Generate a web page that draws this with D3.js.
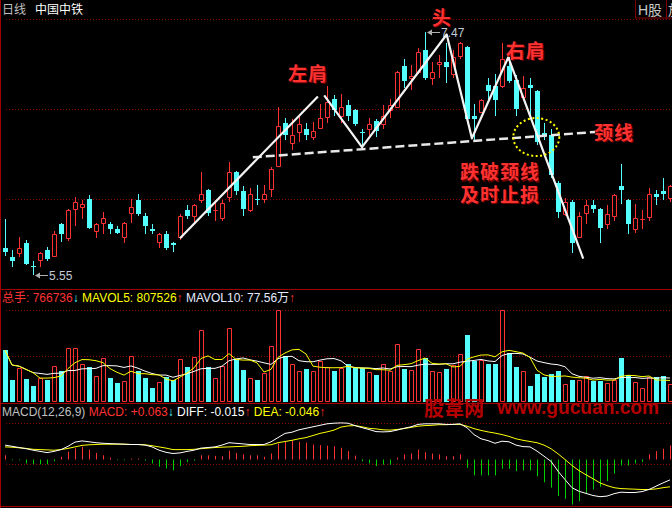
<!DOCTYPE html>
<html>
<head>
<meta charset="utf-8">
<script src="https://cdn.jsdelivr.net/npm/d3@7"></script>
<style>
    html, body { margin: 0; padding: 0; background: #000; }
    svg { display: block; }
    text { font-family: "Liberation Sans", Arial, "Noto Sans CJK SC", sans-serif; }
</style>
</head>
<body>
<div id="chart"></div>
<script>
// daily bars, prices in yuan
const open = [5.76, 5.69, 5.72, 5.80, 5.62, 5.67, 5.75, 5.70, 5.95, 5.84,
    6.07, 6.09, 6.15, 5.90, 5.96, 5.95, 5.91, 5.85, 6.04, 6.14,
    6.02, 5.91, 5.81, 5.87, 5.80, 5.85, 6.06, 6.02, 6.14, 6.22,
    6.06, 6.00, 6.17, 6.36, 6.21, 6.06, 6.15, 6.15, 6.23, 6.41,
    6.75, 6.59, 6.68, 6.70, 6.64, 6.71, 6.80, 6.94, 6.81, 6.89,
    6.85, 6.68, 6.70, 6.77, 6.74, 6.85, 6.88, 7.20, 7.11, 7.15,
    7.33, 7.11, 7.22, 7.23, 7.14, 7.28, 7.35, 6.81, 6.84, 7.05,
    7.04, 7.04, 7.20, 7.09, 6.96, 7.05, 7.00, 6.67, 6.66, 6.28,
    6.03, 6.13, 5.85, 6.04, 6.10, 6.07, 5.95, 6.02, 6.25, 6.14,
    5.91, 5.99, 6.01, 6.19, 6.21, 6.16];
const high = [5.99, 5.75, 5.85, 5.83, 5.66, 5.73, 5.77, 5.90, 5.96, 6.07,
    6.17, 6.14, 6.18, 5.96, 6.05, 5.97, 5.94, 5.97, 6.15, 6.19,
    6.04, 5.95, 5.88, 5.90, 5.81, 6.03, 6.10, 6.11, 6.36, 6.23,
    6.14, 6.14, 6.44, 6.37, 6.25, 6.24, 6.26, 6.26, 6.40, 6.88,
    6.79, 6.78, 6.80, 6.75, 6.76, 6.90, 7.04, 6.97, 6.98, 6.93,
    6.86, 6.70, 6.79, 6.78, 6.89, 6.94, 7.16, 7.26, 7.21, 7.34,
    7.47, 7.23, 7.29, 7.38, 7.33, 7.39, 7.36, 6.90, 6.94, 7.11,
    7.14, 7.38, 7.27, 7.13, 7.12, 7.11, 7.01, 6.75, 6.70, 6.29,
    6.16, 6.14, 6.05, 6.14, 6.14, 6.08, 6.10, 6.19, 6.43, 6.15,
    6.11, 6.06, 6.24, 6.22, 6.32, 6.26];
const low = [5.70, 5.61, 5.69, 5.63, 5.55, 5.61, 5.66, 5.69, 5.81, 5.82,
    5.94, 5.99, 5.91, 5.84, 5.87, 5.87, 5.87, 5.80, 5.96, 6.02,
    5.87, 5.87, 5.76, 5.75, 5.73, 5.83, 5.99, 5.95, 6.12, 6.02,
    5.98, 5.98, 6.13, 6.18, 6.02, 6.05, 6.10, 6.12, 6.17, 6.40,
    6.62, 6.54, 6.60, 6.62, 6.62, 6.70, 6.75, 6.81, 6.75, 6.77,
    6.73, 6.56, 6.64, 6.64, 6.70, 6.79, 6.87, 7.03, 7.01, 7.14,
    7.09, 7.05, 7.11, 7.07, 7.11, 7.26, 6.77, 6.62, 6.83, 6.93,
    6.81, 7.03, 7.07, 6.81, 6.93, 6.81, 6.58, 6.62, 6.32, 6.00,
    6.02, 5.72, 5.84, 5.95, 6.04, 5.80, 5.91, 5.98, 6.11, 5.87,
    5.88, 5.91, 5.98, 6.10, 6.14, 6.13];
const close = [5.73, 5.66, 5.76, 5.64, 5.61, 5.72, 5.68, 5.87, 5.87, 6.06,
    6.13, 6.11, 5.92, 5.95, 6.00, 5.91, 5.88, 5.96, 6.09, 6.03,
    5.94, 5.90, 5.87, 5.76, 5.79, 6.02, 6.02, 6.10, 6.19, 6.04,
    6.06, 6.12, 6.36, 6.21, 6.07, 6.19, 6.14, 6.19, 6.39, 6.73,
    6.66, 6.66, 6.74, 6.66, 6.69, 6.79, 6.92, 6.85, 6.88, 6.81,
    6.74, 6.67, 6.74, 6.69, 6.81, 6.89, 7.15, 7.08, 7.12, 7.31,
    7.11, 7.15, 7.23, 7.19, 7.27, 7.38, 6.78, 6.78, 6.93, 7.00,
    6.93, 7.26, 7.08, 6.86, 7.03, 7.03, 6.60, 6.66, 6.34, 6.05,
    6.13, 5.80, 6.02, 6.10, 6.07, 5.92, 6.03, 6.18, 6.22, 5.95,
    6.00, 5.99, 6.19, 6.17, 6.19, 6.25];

// volume in 万手
const volume = [221, 94, 143, 98, 70, 104, 94, 153, 132, 229,
    229, 161, 150, 111, 186, 104, 82, 89, 196, 132,
    104, 61, 84, 108, 94, 183, 150, 193, 307, 150,
    104, 153, 317, 183, 136, 104, 94, 122, 239, 392,
    197, 161, 132, 141, 132, 175, 150, 132, 143, 162,
    143, 143, 126, 115, 161, 132, 246, 141, 136, 226,
    189, 132, 126, 141, 158, 203, 285, 175, 179, 162,
    162, 391, 207, 150, 132, 68, 119, 108, 119, 132,
    77, 94, 94, 111, 91, 91, 80, 94, 189, 115,
    84, 58, 108, 105, 111, 77];

// MACD(12,26,9)
const diff = [0.048, 0.044, 0.040, 0.036, 0.031, 0.027, 0.023, 0.027, 0.033, 0.044,
    0.058, 0.062, 0.059, 0.056, 0.054, 0.053, 0.052, 0.051, 0.050, 0.050,
    0.048, 0.042, 0.031, 0.024, 0.020, 0.022, 0.027, 0.031, 0.038, 0.040,
    0.042, 0.048, 0.056, 0.054, 0.052, 0.050, 0.050, 0.050, 0.059, 0.073,
    0.087, 0.091, 0.099, 0.104, 0.109, 0.114, 0.119, 0.121, 0.122, 0.121,
    0.113, 0.106, 0.100, 0.093, 0.092, 0.093, 0.098, 0.104, 0.109, 0.117,
    0.119, 0.119, 0.119, 0.117, 0.117, 0.119, 0.106, 0.083, 0.069, 0.063,
    0.054, 0.061, 0.059, 0.048, 0.043, 0.042, 0.028, 0.011, -0.006, -0.039,
    -0.067, -0.094, -0.106, -0.113, -0.120, -0.124, -0.122, -0.114, -0.109, -0.110,
    -0.110, -0.107, -0.100, -0.089, -0.078, -0.068];
const dea = [0.042, 0.041, 0.039, 0.037, 0.034, 0.033, 0.032, 0.031, 0.033, 0.037,
    0.042, 0.047, 0.049, 0.050, 0.051, 0.051, 0.051, 0.051, 0.050, 0.050,
    0.049, 0.046, 0.042, 0.038, 0.033, 0.033, 0.033, 0.034, 0.036, 0.038,
    0.040, 0.041, 0.042, 0.043, 0.044, 0.046, 0.047, 0.048, 0.049, 0.056,
    0.060, 0.064, 0.069, 0.073, 0.080, 0.087, 0.092, 0.098, 0.108, 0.112,
    0.113, 0.109, 0.104, 0.102, 0.099, 0.098, 0.100, 0.103, 0.107, 0.111,
    0.113, 0.114, 0.116, 0.116, 0.117, 0.117, 0.111, 0.103, 0.097, 0.092,
    0.088, 0.083, 0.077, 0.069, 0.064, 0.060, 0.056, 0.048, 0.036, 0.019,
    0.000, -0.020, -0.037, -0.051, -0.064, -0.078, -0.087, -0.094, -0.097, -0.098,
    -0.099, -0.100, -0.100, -0.098, -0.094, -0.091];
const macdBar = [0.014, -0.002, -0.002, -0.013, -0.016, -0.016, -0.016, -0.006, 0.009, 0.026,
    0.037, 0.042, 0.033, 0.022, 0.014, 0.006, -0.002, -0.002, 0.003, 0.003,
    -0.004, -0.013, -0.024, -0.030, -0.036, -0.022, -0.008, -0.004, 0.014, 0.014,
    0.012, 0.011, 0.029, 0.022, 0.017, 0.014, 0.014, 0.009, 0.020, 0.053,
    0.059, 0.064, 0.059, 0.056, 0.050, 0.048, 0.046, 0.044, 0.039, 0.028,
    0.013, -0.006, -0.013, -0.022, -0.017, -0.017, 0.006, 0.017, 0.020, 0.033,
    0.024, 0.020, 0.017, 0.011, 0.011, 0.017, -0.028, -0.053, -0.053, -0.053,
    -0.053, -0.031, -0.031, -0.039, -0.036, -0.036, -0.056, -0.076, -0.094, -0.122,
    -0.131, -0.150, -0.139, -0.113, -0.100, -0.091, -0.072, -0.047, -0.020, -0.020,
    -0.013, -0.008, 0.017, 0.028, 0.036, 0.047];

// grid levels of each pane
const priceGrid = [7.57, 6.86, 6.15];
const volumeGrid = [392, 196];
const macdGrid = [0.122, -0.015];

// head and shoulders drawing, [bar index, price]
const leftShoulderLeg = [[25, 5.84], [44.7, 6.96]];
const patternLegs = [[45.6, 6.97], [51, 6.56], [63.1, 7.45], [66.7, 6.63], [71.9, 7.27], [82.6, 5.68]];
const neckline = [[35.4, 6.48], [84.3, 6.68]];
const breakPoint = [75.9, 6.64];
const patternNotes = [
    { text: '左肩', at: [43.3, 7.14] },
    { text: '头', at: [62.4, 7.58] },
    { text: '右肩', at: [74.4, 7.32] },
    { text: '颈线', at: [87.0, 6.67] },
    { text: '跌破颈线', at: [70.7, 6.36] },
    { text: '及时止损', at: [70.7, 6.18] },
];

// text
const titleTexts = ['日线', '中国中铁'];
const tabTexts = ['H股', '放大'];
const volumeLegend = ['总手: 766736', '↓', ' MAVOL5: 807526', '↑', ' MAVOL10: 77.56万', '↑'];
const macdLegend = ['MACD(12,26,9) ', 'MACD: +0.063', '↓', ' DIFF: -0.015', '↑', ' DEA: -0.046', '↑'];
const watermark = ['股韋网', 'www.gucuan.com'];

const RED = '#ff3232';
const CYAN = '#54ffff';
const GREEN = '#00d000';
const YELLOW = '#ffff00';
const FRAME = '#a00000';

const crisp = v => Math.round(v) + .5;

class KLineChart
{
    constructor(selector)
    {
        this.width = 672;
        this.height = 508;
        this.svg = d3.select(selector).append('svg')
            .attr('width', this.width)
            .attr('height', this.height);

        const last = open.length - 1;
        this.x = d3.scaleLinear().domain([0, last]).range([5, 5 + 7 * last]);
        this.yPrice = d3.scaleLinear().domain([d3.min(low), d3.max(high)]).range([275, 32]);
        this.yVol = d3.scaleLinear().domain([0, d3.max(volume)]).range([402, 310]);
        this.yMacd = d3.scaleLinear().domain([0, .1]).range([459.5, 429.5]);

        this.bars = open.map((o, i) => ({ i, o, h: high[i], l: low[i], c: close[i], v: volume[i], up: close[i] >= o }));
    }

    render()
    {
        this.svg.append('rect').attr('width', this.width).attr('height', this.height).attr('fill', '#000');
        this._renderFrame();
        this._renderCandles();
        this._renderExtremes();
        this._renderVolume();
        this._renderMacd();
        this._renderPattern();
        this._renderTexts();
    }

    _renderFrame()
    {
        const g = this.svg.append('g').classed('frame', true);
        const grid = [
            ...priceGrid.map(p => this.yPrice(p)),
            ...volumeGrid.map(v => this.yVol(v)),
            ...macdGrid.map(v => this.yMacd(v)),
        ];
        g.selectAll('line.grid').data(grid).enter().append('line')
            .attr('x1', 6).attr('x2', this.width)
            .attr('y1', d => crisp(d)).attr('y2', d => crisp(d))
            .attr('stroke', '#8a0000').attr('stroke-dasharray', '1,2');

        g.selectAll('line.pane').data([289, 403, 506]).enter().append('line')
            .attr('x1', 0).attr('x2', this.width)
            .attr('y1', d => d + .5).attr('y2', d => d + .5)
            .attr('stroke', FRAME);
        g.append('line').attr('x1', .5).attr('x2', .5).attr('y1', 0).attr('y2', this.height)
            .attr('stroke', FRAME);

        // top right tabs, the second one runs off the edge
        tabTexts.forEach((t, i) => {
            g.append('rect').attr('x', 635.5 + 31 * i).attr('y', -1).attr('width', 31).attr('height', 19)
                .attr('fill', 'none').attr('stroke', '#800000');
            g.append('text').attr('x', 638 + 30 * i).attr('y', 15).attr('font-size', 14)
                .attr('fill', '#c8c8c8').text(t);
        });
    }

    _renderCandles()
    {
        const y = v => Math.round(this.yPrice(v));
        const g = this.svg.append('g').classed('candles', true);

        g.selectAll('path.wick').data(this.bars).enter().append('path')
            .attr('d', d => {
                const cx = crisp(this.x(d.i));
                return d.up
                    ? `M${cx},${y(d.h)}V${y(d.c)}M${cx},${y(d.o)}V${y(d.l)}`
                    : `M${cx},${y(d.h)}V${y(d.l)}`;
            })
            .attr('stroke', d => d.up ? RED : CYAN);

        g.selectAll('path.up').data(this.bars.filter(d => d.up)).enter().append('path')
            .attr('d', d => {
                const cx = Math.round(this.x(d.i));
                const t = y(d.c) + .5, b = y(d.o) + .5;
                return `M${cx - 1.5},${t}H${cx + 2.5}V${b}H${cx - 1.5}Z`;
            })
            .attr('fill', '#000').attr('stroke', RED);

        g.selectAll('rect.down').data(this.bars.filter(d => !d.up)).enter().append('rect')
            .attr('x', d => Math.round(this.x(d.i)) - 2)
            .attr('y', d => y(d.o))
            .attr('width', 5)
            .attr('height', d => Math.max(1, y(d.c) - y(d.o)))
            .attr('fill', CYAN);
    }

    _renderExtremes()
    {
        const g = this.svg.append('g').classed('extremes', true);
        const hi = d3.maxIndex(high), lo = d3.minIndex(low);
        const marks = [
            { i: hi, y: this.yPrice(high[hi]), label: d3.format('.2f')(high[hi]) },
            { i: lo, y: this.yPrice(low[lo]), label: d3.format('.2f')(low[lo]) },
        ];
        marks.forEach(m => {
            const x0 = Math.round(this.x(m.i)) + 2;
            const yy = crisp(m.y);
            g.append('line').attr('x1', x0 + 3).attr('x2', x0 + 13).attr('y1', yy).attr('y2', yy)
                .attr('stroke', '#b0b0b0');
            g.append('path').attr('d', `M${x0},${yy}L${x0 + 5},${yy - 3}L${x0 + 5},${yy + 3}Z`).attr('fill', '#b0b0b0');
            g.append('text').attr('x', x0 + 14).attr('y', yy + 4.5)
                .attr('font-size', 12).attr('fill', '#c0cad6').text(m.label);
        });
    }

    _renderVolume()
    {
        const g = this.svg.append('g').classed('volume', true);
        const base = this.yVol(0);
        const y = v => Math.round(this.yVol(v));

        g.selectAll('path.up').data(this.bars.filter(d => d.up)).enter().append('path')
            .attr('d', d => {
                const cx = Math.round(this.x(d.i));
                return `M${cx - 1.5},${y(d.v) + .5}H${cx + 2.5}V${base - .5}H${cx - 1.5}Z`;
            })
            .attr('fill', 'none').attr('stroke', RED);

        g.selectAll('rect.down').data(this.bars.filter(d => !d.up)).enter().append('rect')
            .attr('x', d => Math.round(this.x(d.i)) - 2)
            .attr('y', d => y(d.v))
            .attr('width', 5)
            .attr('height', d => base - y(d.v))
            .attr('fill', CYAN);

        const movingAverage = n => volume.map((v, i) => d3.mean(volume.slice(Math.max(0, i - n + 1), i + 1)));
        const line = d3.line().x((d, i) => this.x(i)).y(d => this.yVol(d));
        g.append('path').attr('d', line(movingAverage(10))).attr('fill', 'none').attr('stroke', '#ffffff');
        g.append('path').attr('d', line(movingAverage(5))).attr('fill', 'none').attr('stroke', YELLOW);
    }

    _renderMacd()
    {
        const g = this.svg.append('g').classed('macd', true);
        const zero = this.yMacd(0);

        g.selectAll('line.bar').data(macdBar).enter().append('line')
            .attr('x1', (d, i) => crisp(this.x(i)))
            .attr('x2', (d, i) => crisp(this.x(i)))
            .attr('y1', zero)
            .attr('y2', d => this.yMacd(d))
            .attr('stroke', d => d >= 0 ? RED : GREEN);

        const line = d3.line().x((d, i) => this.x(i)).y(d => this.yMacd(d));
        g.append('path').attr('d', line(dea)).attr('fill', 'none').attr('stroke', YELLOW);
        g.append('path').attr('d', line(diff)).attr('fill', 'none').attr('stroke', '#ffffff');
    }

    _renderPattern()
    {
        const g = this.svg.append('g').classed('pattern', true);
        const line = d3.line().x(d => this.x(d[0])).y(d => this.yPrice(d[1]));

        g.append('path').attr('d', line(neckline))
            .attr('fill', 'none').attr('stroke', '#e8e8e8').attr('stroke-width', 2.5)
            .attr('stroke-dasharray', '9,4');

        [leftShoulderLeg, patternLegs].forEach(points => {
            g.append('path').attr('d', line(points))
                .attr('fill', 'none').attr('stroke', '#f4f4f4').attr('stroke-width', 2.2)
                .attr('stroke-linejoin', 'round');
        });

        g.append('ellipse')
            .attr('cx', this.x(breakPoint[0])).attr('cy', this.yPrice(breakPoint[1]))
            .attr('rx', 23).attr('ry', 19)
            .attr('fill', 'none').attr('stroke', YELLOW).attr('stroke-width', 2)
            .attr('stroke-dasharray', '2,2.5');

        const notes = g.selectAll('g.note').data(patternNotes).enter().append('g')
            .attr('transform', d => `translate(${this.x(d.at[0])}, ${this.yPrice(d.at[1])})`);
        [['#6a0000', 1.2], [RED, 0]].forEach(([color, off]) => {
            notes.append('text')
                .attr('x', off).attr('y', 7 + off)
                .attr('text-anchor', 'middle')
                .attr('font-family', '"Noto Sans CJK SC"')
                .attr('font-weight', 'bold')
                .attr('font-size', 19)
                .attr('letter-spacing', 1)
                .attr('fill', color)
                .text(d => d.text);
        });
    }

    _renderTexts()
    {
        const g = this.svg.append('g').classed('texts', true);

        const title = g.append('text').attr('x', 2).attr('y', 14).attr('font-size', 12)
            .attr('font-family', '"Noto Sans CJK SC"');
        title.append('tspan').attr('fill', '#c0c0c0').text(titleTexts[0]);
        title.append('tspan').attr('dx', 9).attr('fill', '#ffffff').text(titleTexts[1]);

        const volColors = [RED, CYAN, YELLOW, RED, '#e6ecff', RED];
        const vol = g.append('text').attr('x', 2).attr('y', 302).attr('font-size', 12);
        volumeLegend.forEach((t, i) => vol.append('tspan').attr('fill', volColors[i]).text(t));

        const macdColors = ['#c0c0c0', RED, CYAN, '#ffffff', RED, YELLOW, RED];
        const macd = g.append('text').attr('x', 2).attr('y', 416).attr('font-size', 12);
        macdLegend.forEach((t, i) => macd.append('tspan').attr('fill', macdColors[i]).text(t));

        g.append('text').attr('x', 424).attr('y', 416)
            .attr('font-family', '"Noto Sans CJK SC"').attr('font-weight', 'bold')
            .attr('font-size', 20).attr('fill', '#b40000')
            .text(watermark[0]);
        g.append('text').attr('x', 497).attr('y', 414)
            .attr('font-weight', 'bold').attr('font-size', 21)
            .attr('textLength', 162).attr('lengthAdjust', 'spacingAndGlyphs')
            .attr('fill', '#b40000')
            .text(watermark[1]);
    }
}

new KLineChart('#chart').render();
</script>
</body>
</html>
